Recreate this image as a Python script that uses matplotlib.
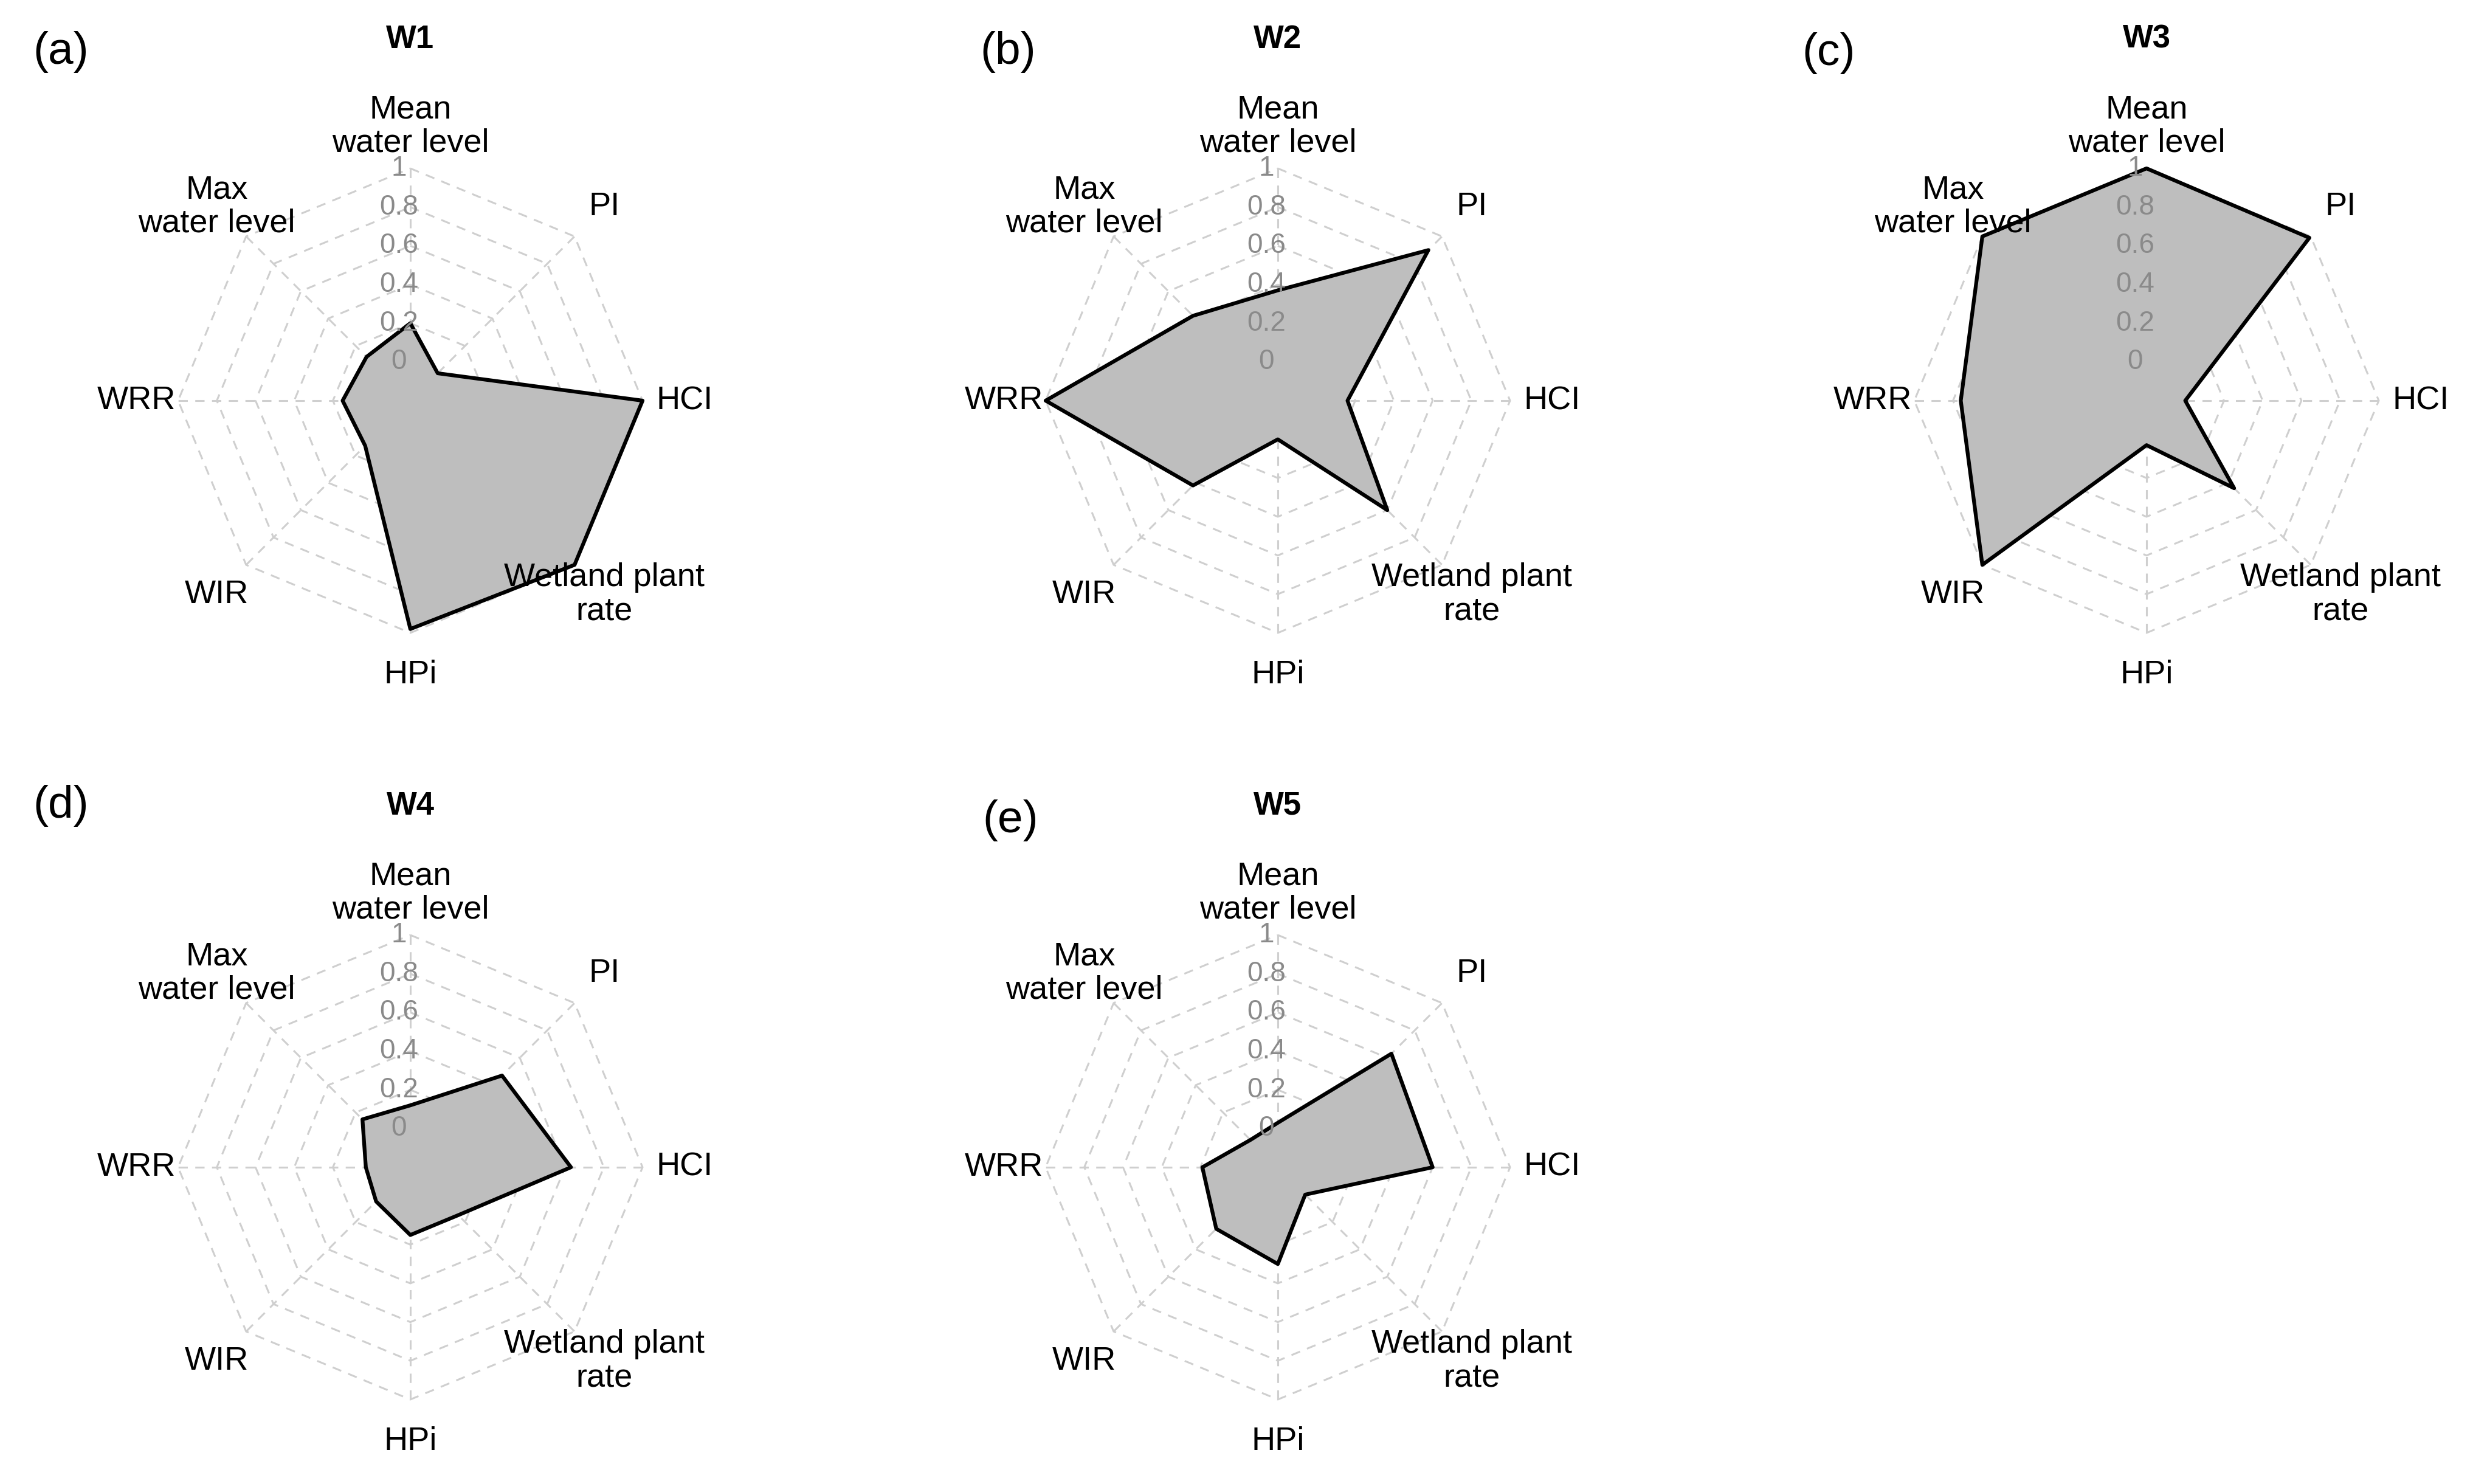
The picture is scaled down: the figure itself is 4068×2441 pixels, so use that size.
import numpy as np
import matplotlib
matplotlib.use('Agg')
import matplotlib.pyplot as plt

plt.rcParams['font.family'] = ['Liberation Sans', 'DejaVu Sans']

# axis order, clockwise from the top
labels = ['Mean\nwater level', 'PI', 'HCI', 'Wetland plant\nrate', 'HPi', 'WIR', 'WRR', 'Max\nwater level']

W1 = [0.20, 0.00, 1.00, 1.00, 0.98, 0.13, 0.15, 0.12]
W2 = [0.37, 0.90, 0.16, 0.60, 0.00, 0.42, 1.00, 0.42]
W3 = [1.00, 0.99, 0.00, 0.44, 0.03, 1.00, 0.76, 1.00]
W4 = [0.12, 0.47, 0.63, 0.15, 0.15, 0.05, 0.03, 0.15]
W5 = [0.03, 0.63, 0.60, 0.00, 0.30, 0.25, 0.19, 0.00]

site_names = ['W1', 'W2', 'W3', 'W4', 'W5']
panel_tags = ['(a)', '(b)', '(c)', '(d)', '(e)']
axis_ticks = [0, 0.2, 0.4, 0.6, 0.8, 1]

W, H = 4068, 2441
DPI = 100
SEG = 5  # fmsb style: 0 sits on the inner ring (1/6 of radius)

centers = [(675, 659), (2102, 659), (3531, 659), (675, 1920), (2102, 1920)]  # px
tag_pos = [(100, 85), (1658, 85), (3008, 88), (100, 1326), (1662, 1349)]  # px
R_PX = 382
HALF = 1.6  # axes half width in radius units

GRID_COL = '#cfcfcf'


def scale(v):
    return (1 + SEG * np.asarray(v, dtype=float)) / (SEG + 1)


def radar(ax, vals, title):
    n = len(labels)
    ang = np.deg2rad(90 - 360.0 / n * np.arange(n))
    ca, sa = np.cos(ang), np.sin(ang)

    # rings
    for t in axis_ticks:
        r = scale(t)
        ax.plot(np.append(r * ca, r * ca[0]), np.append(r * sa, r * sa[0]),
                color=GRID_COL, lw=2.2, ls=(0, (5, 4)), zorder=1)
    # spokes
    r0 = scale(0)
    for i in range(n):
        ax.plot([r0 * ca[i], ca[i]], [r0 * sa[i], sa[i]],
                color=GRID_COL, lw=2.2, ls=(0, (5, 4)), zorder=1)

    # closed polygon, so the outline joins cleanly at the first vertex
    rv = scale(vals)
    ax.fill(rv * ca, rv * sa, facecolor='#bebebe', edgecolor='black',
            lw=4.5, joinstyle='round', zorder=2)

    # axis numbers
    for t in axis_ticks:
        ax.text(-0.05, scale(t), '%g' % t, color='#8a8a8a', fontsize=33,
                ha='center', va='center', zorder=4)

    for i, lab in enumerate(labels):
        ax.text(1.18 * ca[i], 1.18 * sa[i], lab, fontsize=39, ha='center',
                va='center', linespacing=1.12, zorder=5)

    ax.text(0, 1.555, title, fontsize=38, fontweight='bold', ha='center',
            va='center', clip_on=False)

    ax.set_xlim(-HALF, HALF)
    ax.set_ylim(-HALF, HALF)
    ax.set_aspect('equal')
    ax.axis('off')


fig = plt.figure(figsize=(W / DPI, H / DPI), dpi=DPI)
data = [W1, W2, W3, W4, W5]
side = 2 * HALF * R_PX
for k, (cx, cy) in enumerate(centers):
    ax = fig.add_axes([(cx - side / 2) / W, 1 - (cy + side / 2) / H, side / W, side / H])
    radar(ax, data[k], site_names[k])
    tx, ty = tag_pos[k]
    fig.text(tx / W, 1 - ty / H, panel_tags[k], fontsize=54, ha='center', va='center')

fig.savefig('out.png', dpi=DPI, facecolor='white')
